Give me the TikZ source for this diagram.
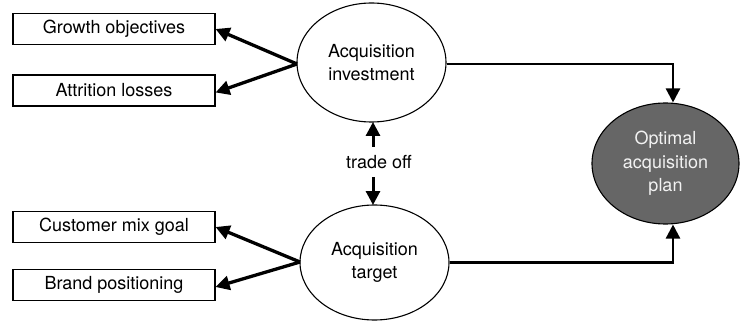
\documentclass[tikz,border=0pt]{standalone}
\usepackage{fontspec}
\setmainfont{TeX Gyre Heros}
\usetikzlibrary{shapes.geometric,arrows.meta}
\begin{document}
\begin{tikzpicture}[x=1pt,y=-1pt,
  every node/.style={font=\fontsize{18}{23.5}\selectfont},
  box/.style={draw=black,line width=1.1pt,rectangle,minimum width=202pt,minimum height=31pt,inner sep=0pt,anchor=center},
  oval/.style={draw=black,line width=1.1pt,ellipse,inner sep=0pt,align=center},
  thick arrow/.style={line width=3.3pt,-{Triangle[length=14pt,width=14pt]}},
  link/.style={line width=2.4pt,-{Triangle[length=14pt,width=14pt]}}]
\useasboundingbox (0,0) rectangle (740,321);
\node[box] (g) at (114,29) {Growth objectives};
\node[box] (a) at (114,90.5) {Attrition losses};
\node[box] (c) at (114,227) {Customer mix goal};
\node[box] (b) at (114,285) {Brand positioning};
\node[oval,minimum width=149pt,minimum height=119pt] (inv) at (371.5,62.5) {Acquisition\\investment};
\node[oval,minimum width=149pt,minimum height=115pt] (tgt) at (374.5,262.5) {Acquisition\\target};
\node[oval,fill=black!60,text=black!5,minimum width=147pt,minimum height=121pt] (opt) at (665.5,163.5) {Optimal\\acquisition\\plan};
\node[inner sep=1pt] (to) at (379,162) {trade off};
\coordinate (inL) at (297,64);
\coordinate (tgL) at (300,262);
\draw[thick arrow] (inL) -- (g.east);
\draw[thick arrow] (inL) -- ([yshift=-2pt]a.east);
\draw[thick arrow] (tgL) -- (c.east);
\draw[thick arrow] (tgL) -- ([yshift=-2pt]b.east);
\coordinate (toU) at (373,147);
\coordinate (toD) at (373,177);
\draw[link,line width=3pt] (toU) -- (373,122);
\draw[link,line width=3pt] (toD) -- (373,205);
\draw[link] (inv.east) ++(0,1.5) -| (opt.north -| 673,0);
\draw[link] (tgt.east) -| ([xshift=7.5pt]opt.south);
\end{tikzpicture}
\end{document}
